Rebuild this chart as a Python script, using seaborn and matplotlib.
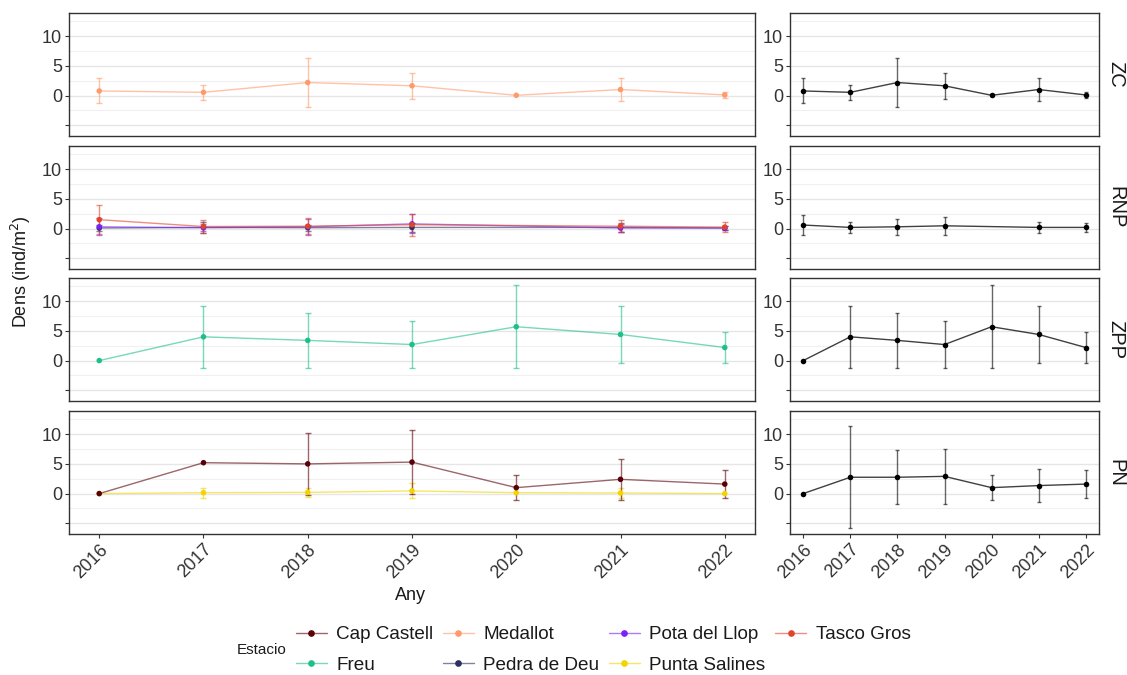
import numpy as np
import pandas as pd
import matplotlib
matplotlib.use("Agg")
import matplotlib.pyplot as plt
from matplotlib.lines import Line2D
import seaborn as sns

sns.set_theme(style="white")
plt.rcParams["font.family"] = ["Liberation Sans", "DejaVu Sans"]

# ---- data ---------------------------------------------------------------
years = [2016, 2017, 2018, 2019, 2020, 2021, 2022]
zones = ["ZC", "RNP", "ZPP", "PN"]
nan = np.nan

# per-station mean density and standard deviation
medallot_mean = [0.78, 0.55, 2.2, 1.65, 0.05, 1.02, 0.11]
medallot_sd = [2.1, 1.3, 4.15, 2.2, nan, 1.88, 0.56]

tasco_mean = [1.5, 0.35, 0.4, 0.65, nan, 0.4, 0.25]
tasco_sd = [2.4, 1.1, 1.3, 1.85, nan, 1.0, 0.8]
pota_mean = [0.3, 0.15, 0.3, 0.8, nan, 0.1, 0.1]
pota_sd = [1.4, 0.6, 1.3, 1.6, nan, 0.6, 0.4]
pedra_mean = [0.1, 0.2, 0.15, 0.2, nan, 0.2, 0.1]
pedra_sd = [0.5, 0.9, 0.5, 0.8, nan, 0.8, 0.3]

freu_mean = [0.0, 4.0, 3.4, 2.7, 5.7, 4.4, 2.2]
freu_sd = [nan, 5.25, 4.6, 3.9, 6.95, 4.75, 2.6]

cap_mean = [0.0, 5.2, 5.0, 5.3, 1.0, 2.4, 1.6]
cap_sd = [nan, nan, 5.2, 5.4, 2.15, 3.4, 2.4]
salines_mean = [0.0, 0.15, 0.2, 0.45, 0.15, 0.1, 0.0]
salines_sd = [nan, 0.85, 0.8, 1.25, nan, 0.8, nan]

# zone-level mean density and standard deviation
zc_mean = [0.78, 0.55, 2.2, 1.65, 0.05, 1.02, 0.11]
zc_sd = [2.1, 1.3, 4.15, 2.2, nan, 1.88, 0.56]
rnp_mean = [0.6, 0.2, 0.3, 0.47, nan, 0.2, 0.2]
rnp_sd = [1.75, 0.9, 1.3, 1.55, nan, 0.9, 0.8]
zpp_mean = [0.0, 4.0, 3.4, 2.7, 5.7, 4.4, 2.2]
zpp_sd = [nan, 5.25, 4.6, 3.9, 6.95, 4.75, 2.6]
pn_mean = [0.0, 2.75, 2.75, 2.9, 1.0, 1.35, 1.6]
pn_sd = [nan, 8.6, 4.55, 4.6, 2.15, 2.75, 2.4]

stations = ["Cap Castell", "Freu", "Medallot", "Pedra de Deu",
            "Pota del Llop", "Punta Salines", "Tasco Gros"]
palette = {
    "Cap Castell": "#5a0008",
    "Freu": "#1dbf8c",
    "Medallot": "#ff9a6c",
    "Pedra de Deu": "#2e2f5c",
    "Pota del Llop": "#7a22f5",
    "Punta Salines": "#f3d400",
    "Tasco Gros": "#e0452b",
}

station_rows = [
    ("ZC", "Medallot", medallot_mean, medallot_sd),
    ("RNP", "Pedra de Deu", pedra_mean, pedra_sd),
    ("RNP", "Pota del Llop", pota_mean, pota_sd),
    ("RNP", "Tasco Gros", tasco_mean, tasco_sd),
    ("ZPP", "Freu", freu_mean, freu_sd),
    ("PN", "Punta Salines", salines_mean, salines_sd),
    ("PN", "Cap Castell", cap_mean, cap_sd),
]
zone_rows = [
    ("ZC", zc_mean, zc_sd),
    ("RNP", rnp_mean, rnp_sd),
    ("ZPP", zpp_mean, zpp_sd),
    ("PN", pn_mean, pn_sd),
]

st = pd.concat([
    pd.DataFrame({"Zona": z, "Estacio": s, "Any": years, "Dens": m, "sd": d})
    for z, s, m, d in station_rows
], ignore_index=True).dropna(subset=["Dens"])
zn = pd.concat([
    pd.DataFrame({"Zona": z, "Any": years, "Dens": m, "sd": d})
    for z, m, d in zone_rows
], ignore_index=True).dropna(subset=["Dens"])

# ---- layout -------------------------------------------------------------
W, H = 1127, 675
fig = plt.figure(figsize=(W / 100, H / 100), dpi=100)


def rect(x0, y0, x1, y1):
    return [x0 / W, 1 - y1 / H, (x1 - x0) / W, (y1 - y0) / H]


row_y = [(13, 136), (146, 269), (278, 401), (411, 534)]
txt_col = "#333333"
edge_col = "#333333"


def style_axis(ax, bottom):
    ax.set_facecolor("white")
    ax.set_ylim(-6.8, 13.9)
    ax.set_yticks([-5, 0, 5, 10])
    ax.set_yticklabels(["", "0", "5", "10"])
    ax.set_yticks([-2.5, 2.5, 7.5, 12.5], minor=True)
    ax.grid(axis="y", which="major", color="#e6e6e6", lw=1.0)
    ax.grid(axis="y", which="minor", color="#f0f0f0", lw=0.8)
    ax.grid(axis="x", visible=False)
    ax.set_axisbelow(True)
    for sp in ax.spines.values():
        sp.set_color(edge_col)
        sp.set_linewidth(1.0)
    ax.tick_params(axis="both", which="major", length=3, width=0.8,
                   color=edge_col, labelcolor=txt_col, labelsize=13,
                   left=True, bottom=bottom, pad=2)
    ax.tick_params(axis="y", which="minor", length=0)
    ax.set_xticks(years)
    if bottom:
        ax.set_xticklabels([str(y) for y in years], rotation=45, ha="right",
                           rotation_mode="anchor")
    else:
        ax.set_xticklabels([])
    ax.set_xlabel("")
    ax.set_ylabel("")


for i, zone in enumerate(zones):
    y0, y1 = row_y[i]
    bottom = i == len(zones) - 1

    # stations within the zone
    axl = fig.add_axes(rect(69, y0, 755, y1))
    sub = st[st["Zona"] == zone]
    sns.lineplot(data=sub, x="Any", y="Dens", hue="Estacio", palette=palette,
                 estimator=None, sort=True, alpha=0.6, lw=1.0, legend=False,
                 ax=axl)
    for name, g in sub.groupby("Estacio", sort=False):
        ge = g.dropna(subset=["sd"])
        axl.errorbar(ge["Any"], ge["Dens"], yerr=ge["sd"], fmt="none",
                     ecolor=palette[name], alpha=0.6, elinewidth=1.0,
                     capsize=2.4, capthick=1.0)
    sns.scatterplot(data=sub, x="Any", y="Dens", hue="Estacio",
                    palette=palette, s=16, linewidth=0, legend=False, ax=axl,
                    zorder=3)
    axl.set_xlim(2015.71, 2022.29)
    style_axis(axl, bottom)

    # zone mean
    axr = fig.add_axes(rect(790, y0, 1099, y1))
    zsub = zn[zn["Zona"] == zone]
    sns.lineplot(data=zsub, x="Any", y="Dens", color="black", alpha=0.75,
                 lw=1.0, estimator=None, ax=axr)
    ze = zsub.dropna(subset=["sd"])
    axr.errorbar(ze["Any"], ze["Dens"], yerr=ze["sd"], fmt="none",
                 ecolor="black", alpha=0.6, elinewidth=1.0, capsize=1.4,
                 capthick=1.0)
    sns.scatterplot(data=zsub, x="Any", y="Dens", color="black", s=16,
                    linewidth=0, ax=axr, zorder=3)
    axr.set_xlim(2015.72, 2022.28)
    style_axis(axr, bottom)

    # facet strip label
    fig.text(1116 / W, 1 - (y0 + y1) / 2 / H, zone, rotation=-90,
             ha="center", va="center", fontsize=14.5, color="#1a1a1a")

fig.text(410 / W, 1 - 596 / H, "Any", ha="center", va="center",
         fontsize=13, color="#1a1a1a")
fig.text(21 / W, 1 - 272 / H, "Dens (ind/m$^2$)", rotation=90,
         ha="center", va="center", fontsize=13, color="#1a1a1a")

# legend
handles = [
    (Line2D([], [], color=palette[s], alpha=0.6, lw=1.0),
     Line2D([], [], color=palette[s], marker="o", ls="none", ms=3.8))
    for s in stations
]
fig.legend(handles, stations, loc="center", ncol=4,
           bbox_to_anchor=(603 / W, 1 - 650 / H), frameon=False,
           fontsize=13.6, handlelength=1.65, handletextpad=0.5,
           columnspacing=0.5, labelspacing=0.7, labelcolor="#1a1a1a")
fig.text(262 / W, 1 - 650 / H, "Estacio", ha="center", va="center",
         fontsize=11, color="#1a1a1a")

fig.savefig("out.png", dpi=100, facecolor="white")
